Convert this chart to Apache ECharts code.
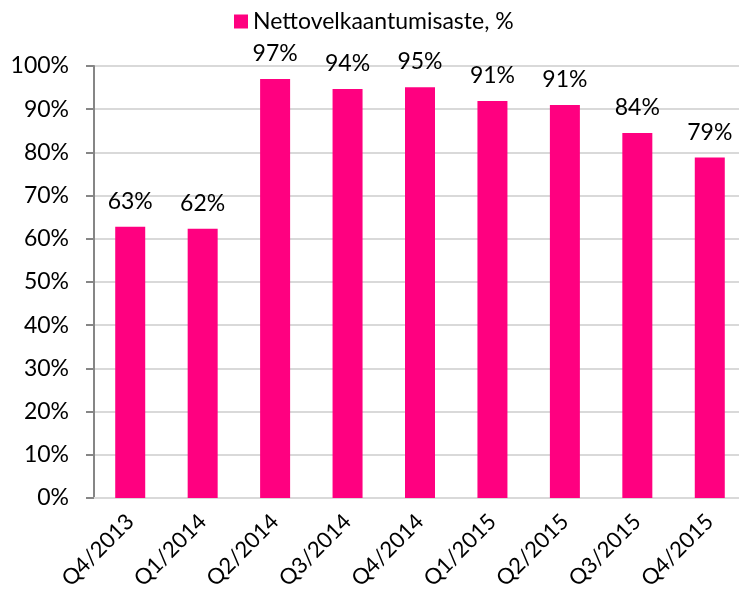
<!DOCTYPE html>
<html>
<head>
    <meta charset="utf-8">
    <script src="https://cdn.jsdelivr.net/npm/echarts@6/dist/echarts.min.js"></script>
</head>
<body style="margin:0">
<div id="bar" style="width:739px;height:591px"></div>
<script>
    var categories = ['Q4/2013', 'Q1/2014', 'Q2/2014', 'Q3/2014', 'Q4/2014', 'Q1/2015', 'Q2/2015', 'Q3/2015', 'Q4/2015'];
    var values = [62.8, 62.3, 97.0, 94.7, 95.1, 91.9, 91.0, 84.5, 78.8];
    var valueLabels = ['63%', '62%', '97%', '94%', '95%', '91%', '91%', '84%', '79%'];
    var seriesName = 'Nettovelkaantumisaste, %';

    var font = 'Lato, "Open Sans", sans-serif';
    var myBar = echarts.init(document.getElementById('bar'));

    var option = {
        animation: false,
        textStyle: { fontFamily: font },
        legend: {
            data: [{ name: seriesName, icon: 'rect' }],
            top: 5,
            left: 229,
            itemWidth: 14,
            itemHeight: 14,
            itemGap: 9,
            textStyle: { fontSize: 23, color: '#000', fontFamily: font }
        },
        grid: {
            left: 94,
            width: 652,
            top: 66,
            bottom: 93,
            containLabel: false,
            outerBoundsMode: 'none'
        },
        xAxis: {
            type: 'category',
            data: categories,
            axisLine: { lineStyle: { color: '#d9d9d9', width: 2 } },
            axisTick: { show: false },
            axisLabel: {
                rotate: 45,
                fontSize: 22,
                color: '#000',
                margin: 20,
                fontFamily: font
            }
        },
        yAxis: {
            type: 'value',
            min: 0,
            max: 100,
            interval: 10,
            axisLine: { show: true, lineStyle: { color: '#868686', width: 2 } },
            axisTick: { show: true, length: 8, lineStyle: { color: '#868686', width: 2 } },
            axisLabel: {
                formatter: '{value}%',
                fontSize: 23,
                color: '#000',
                margin: 25,
                fontFamily: font
            },
            splitLine: { lineStyle: { color: '#d9d9d9', width: 2 } }
        },
        series: [{
            name: seriesName,
            type: 'bar',
            data: values,
            barWidth: 30,
            itemStyle: { color: '#ff0080' },
            label: {
                show: true,
                position: 'top',
                distance: 14,
                fontSize: 23,
                color: '#000',
                fontFamily: font,
                formatter: function (p) { return valueLabels[p.dataIndex]; }
            }
        }]
    };
    myBar.setOption(option);
</script>
</body>
</html>
